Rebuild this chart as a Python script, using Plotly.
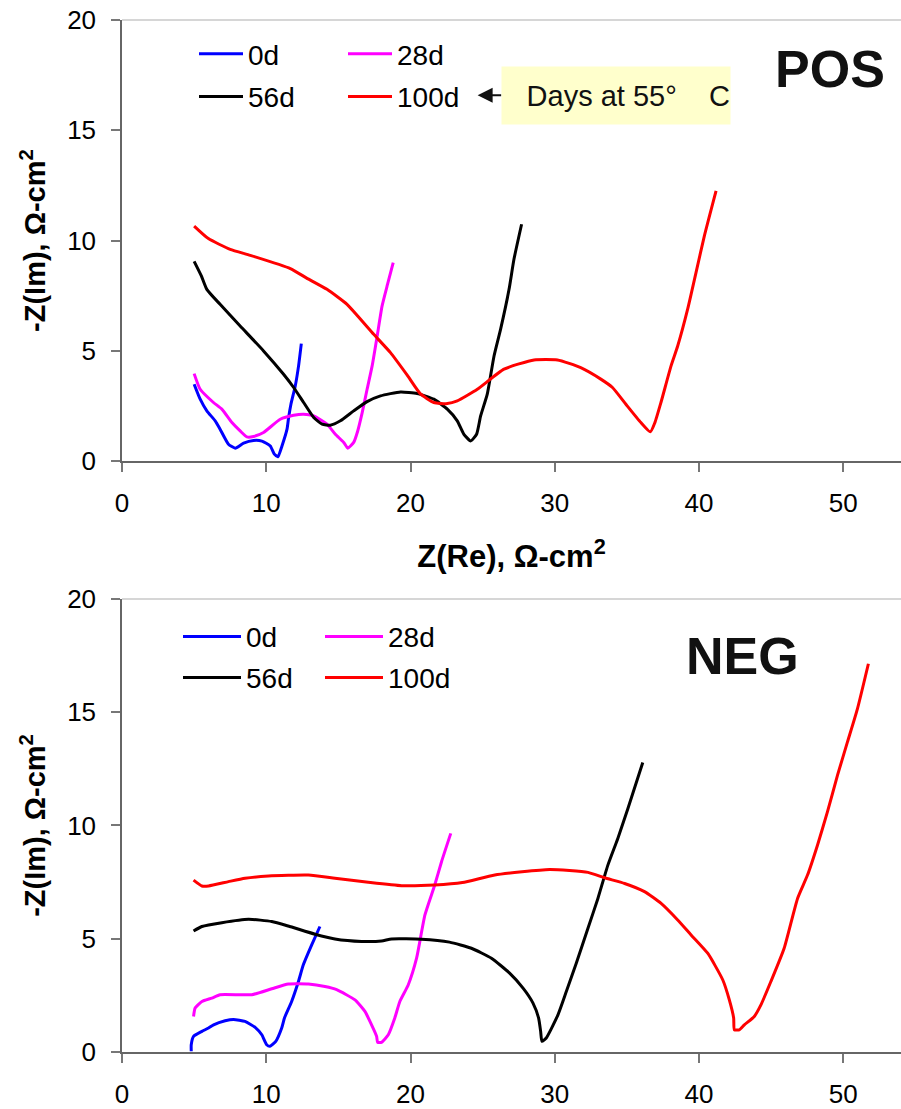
import plotly.graph_objects as go
from plotly.subplots import make_subplots

# ---------------- data ----------------
series_names = ["0d", "28d", "56d", "100d"]
series_colors = ["#0000FF", "#FF00FF", "#000000", "#FF0000"]

# POS electrode
pos_0d_x = [5.0, 5.42, 5.88, 6.46, 6.8, 7.38, 7.85, 8.43, 9.12, 9.7, 10.28, 10.56, 10.81, 11.09, 11.44, 11.55, 11.71, 12.01, 12.24, 12.43]
pos_0d_y = [3.49, 2.81, 2.28, 1.83, 1.45, 0.77, 0.59, 0.82, 0.94, 0.91, 0.69, 0.32, 0.2, 0.69, 1.45, 1.98, 2.58, 3.41, 4.32, 5.33]

pos_28d_x = [5.0, 5.42, 6.34, 6.92, 7.62, 8.19, 8.66, 9.12, 9.81, 10.97, 11.9, 12.59, 13.29, 14.21, 14.79, 15.37, 15.65, 16.06, 16.34, 16.65, 16.99, 17.34, 17.69, 18.03, 18.4, 18.8]
pos_28d_y = [3.97, 3.26, 2.66, 2.36, 1.75, 1.37, 1.1, 1.12, 1.3, 1.9, 2.08, 2.13, 2.05, 1.68, 1.22, 0.85, 0.59, 0.85, 1.37, 2.2, 3.26, 4.32, 5.68, 7.04, 8.0, 9.0]

pos_56d_x = [5.0, 5.5, 5.88, 6.8, 8.19, 9.81, 11.2, 11.9, 12.59, 13.29, 13.87, 14.44, 15.14, 16.06, 16.99, 17.92, 19.31, 20.46, 21.62, 22.55, 23.24, 23.7, 24.17, 24.58, 24.86, 25.32, 25.79, 26.25, 26.83, 27.17, 27.7]
pos_56d_y = [9.06, 8.4, 7.79, 7.11, 6.13, 5.0, 3.94, 3.34, 2.66, 1.98, 1.68, 1.63, 1.83, 2.28, 2.7, 2.96, 3.14, 3.07, 2.81, 2.36, 1.83, 1.22, 0.92, 1.22, 2.05, 3.04, 4.77, 6.0, 7.79, 9.15, 10.74]

pos_100d_x = [5.0, 5.99, 7.5, 8.89, 11.67, 12.8, 14.21, 15.6, 17.45, 18.61, 19.77, 20.69, 21.62, 22.55, 23.24, 24.63, 26.48, 28.56, 30.19, 31.8, 33.19, 34.0, 34.93, 35.97, 36.62, 36.94, 37.36, 38.06, 38.52, 39.21, 39.79, 40.37, 41.18]
pos_100d_y = [10.66, 10.09, 9.6, 9.33, 8.73, 8.3, 7.79, 7.11, 5.75, 4.92, 3.9, 3.05, 2.66, 2.61, 2.73, 3.26, 4.17, 4.59, 4.59, 4.24, 3.72, 3.34, 2.58, 1.75, 1.33, 1.75, 2.66, 4.32, 5.22, 6.89, 8.55, 10.21, 12.25]

# NEG electrode
neg_0d_x = [4.8, 4.8, 4.96, 5.54, 6.0, 6.35, 7.15, 7.73, 8.53, 9.23, 9.69, 10.03, 10.26, 10.66, 11.07, 11.26, 11.76, 12.23, 12.57, 13.15, 13.72]
neg_0d_y = [0.03, 0.32, 0.69, 0.91, 1.06, 1.2, 1.38, 1.44, 1.35, 1.09, 0.76, 0.32, 0.25, 0.47, 1.06, 1.5, 2.23, 3.11, 3.85, 4.73, 5.54]

neg_28d_x = [4.96, 5.07, 5.54, 6.23, 6.8, 9.0, 10.38, 11.53, 12.92, 14.07, 14.88, 16.15, 16.84, 17.3, 17.65, 17.72, 17.99, 18.46, 18.91, 19.26, 19.84, 20.42, 21.0, 21.68, 22.15, 22.79]
neg_28d_y = [1.57, 1.94, 2.23, 2.38, 2.53, 2.53, 2.79, 3.0, 3.0, 2.89, 2.75, 2.3, 1.79, 1.2, 0.69, 0.43, 0.43, 0.76, 1.5, 2.23, 2.96, 4.14, 6.05, 7.37, 8.4, 9.65]

neg_56d_x = [4.96, 5.54, 6.92, 8.77, 10.38, 11.53, 13.38, 14.76, 16.61, 17.99, 18.69, 20.76, 22.7, 24.22, 25.61, 26.87, 27.8, 28.49, 28.88, 29.02, 29.11, 29.41, 30.22, 30.8, 31.49, 32.3, 32.99, 33.68, 34.37, 35.07, 36.1]
neg_56d_y = [5.34, 5.54, 5.71, 5.86, 5.76, 5.56, 5.2, 4.99, 4.88, 4.9, 4.99, 4.98, 4.85, 4.58, 4.14, 3.48, 2.82, 2.16, 1.5, 0.91, 0.47, 0.62, 1.64, 2.67, 3.92, 5.46, 6.78, 8.25, 9.43, 10.75, 12.78]

neg_100d_x = [4.96, 5.54, 6.0, 7.38, 8.53, 10.15, 12.92, 14.76, 17.07, 19.38, 21.68, 23.6, 25.84, 29.64, 32.3, 33.45, 34.84, 36.22, 37.37, 38.52, 39.45, 40.6, 41.64, 42.1, 42.4, 42.45, 42.79, 43.14, 43.83, 44.29, 44.98, 45.9, 46.83, 47.52, 48.21, 48.9, 49.6, 50.29, 50.98, 51.74]
neg_100d_y = [7.59, 7.33, 7.33, 7.52, 7.67, 7.77, 7.81, 7.67, 7.49, 7.34, 7.37, 7.48, 7.81, 8.06, 7.93, 7.69, 7.44, 7.08, 6.56, 5.83, 5.17, 4.36, 3.19, 2.3, 1.5, 0.98, 0.98, 1.2, 1.57, 2.08, 3.11, 4.58, 6.78, 7.81, 9.13, 10.6, 12.22, 13.69, 15.15, 17.14]

x_ticks = [0, 10, 20, 30, 40, 50]
y_ticks = [0, 5, 10, 15, 20]

FONT = "Liberation Sans, Arial, sans-serif"
FS = 26

pos_data = [(pos_0d_x, pos_0d_y), (pos_28d_x, pos_28d_y), (pos_56d_x, pos_56d_y), (pos_100d_x, pos_100d_y)]
neg_data = [(neg_0d_x, neg_0d_y), (neg_28d_x, neg_28d_y), (neg_56d_x, neg_56d_y), (neg_100d_x, neg_100d_y)]

fig = make_subplots(rows=2, cols=1, vertical_spacing=0.1335)

legend_ids = [["legend", "legend", "legend2", "legend2"], ["legend3", "legend3", "legend4", "legend4"]]

for row, data in ((1, pos_data), (2, neg_data)):
    for i, (xs, ys) in enumerate(data):
        fig.add_trace(go.Scatter(
            x=xs, y=ys, mode="lines", name=series_names[i],
            line=dict(color=series_colors[i], width=3, shape="spline", smoothing=0.5),
            legend=legend_ids[row - 1][i], showlegend=True,
        ), row=row, col=1)

fig.update_layout(
    width=901, height=1109,
    margin=dict(l=122, r=0, t=20, b=55),
    paper_bgcolor="white", plot_bgcolor="white",
    font=dict(family=FONT, size=FS, color="#000"),
    yaxis=dict(domain=[0.5725, 1.0]),
    yaxis2=dict(domain=[0.0, 0.439]),
)


def px_to_paper_x(px):
    return (px - 122) / 779.0


def px_to_paper_y(py):
    return (1054 - py) / 1034.0


def leg(xpx, ypx, entry, itemw):
    return dict(orientation="h", xanchor="left", yanchor="middle",
                x=px_to_paper_x(xpx), y=px_to_paper_y(ypx),
                font=dict(family=FONT, size=28, color="#000"),
                bgcolor="rgba(0,0,0,0)", entrywidth=entry, entrywidthmode="pixels",
                itemwidth=itemw, tracegroupgap=0)


fig.update_layout(
    legend=leg(194, 54, 90, 44),
    legend2=leg(194, 97, 90, 44),
    legend3=leg(178, 638, 69, 58),
    legend4=leg(178, 679, 69, 58),
)

axis_common = dict(showgrid=False, zeroline=False, showline=True, linecolor="#666", linewidth=1.5,
                   ticks="outside", ticklen=9, tickwidth=1.5, tickcolor="#777",
                   tickfont=dict(family=FONT, size=FS, color="#000"))

for r in (1, 2):
    fig.update_xaxes(range=[0, 54], tickvals=x_ticks, row=r, col=1, ticklabelstandoff=9, **axis_common)
    fig.update_yaxes(range=[0, 20], tickvals=y_ticks, row=r, col=1, ticklabelstandoff=10, **axis_common)

ytitle = "<b>-Z(Im), \u03a9-cm<sup>2</sup></b>"
fig.update_xaxes(row=1, col=1,
                 title=dict(text="<b>Z(Re), \u03a9-cm<sup>2</sup></b>", font=dict(family=FONT, size=31), standoff=28))
fig.update_yaxes(row=1, col=1, title=dict(text=ytitle, font=dict(family=FONT, size=29), standoff=13))
fig.update_yaxes(row=2, col=1, title=dict(text=ytitle, font=dict(family=FONT, size=29), standoff=13))

# light top border lines
for xref, yref in (("x domain", "y domain"), ("x2 domain", "y2 domain")):
    fig.add_shape(type="line", xref=xref, yref=yref, x0=0, x1=1, y0=1, y1=1,
                  line=dict(color="#c8c8c8", width=1.5))

# panel labels
fig.add_annotation(xref="paper", yref="paper", x=px_to_paper_x(830), y=px_to_paper_y(69),
                   text="<b>POS</b>", showarrow=False, font=dict(family=FONT, size=52, color="#111"),
                   xanchor="center", yanchor="middle")
fig.add_annotation(xref="paper", yref="paper", x=px_to_paper_x(742), y=px_to_paper_y(657),
                   text="<b>NEG</b>", showarrow=False, font=dict(family=FONT, size=52, color="#111"),
                   xanchor="center", yanchor="middle")

# "Days at 55 C" note with arrow
fig.add_annotation(xref="x", yref="y", x=(477 - 122) / 14.4, y=(462 - 96) / 22.07,
                   text="Days at 55\u00b0\u00a0\u00a0\u00a0\u00a0C", showarrow=True,
                   ax=138, ay=0, arrowhead=2, arrowsize=1.5, arrowwidth=2, arrowcolor="#111",
                   bgcolor="#FFFFCC", borderpad=0, width=228, height=57, align="right",
                   font=dict(family=FONT, size=29, color="#111"))

fig.write_html("out.html")
